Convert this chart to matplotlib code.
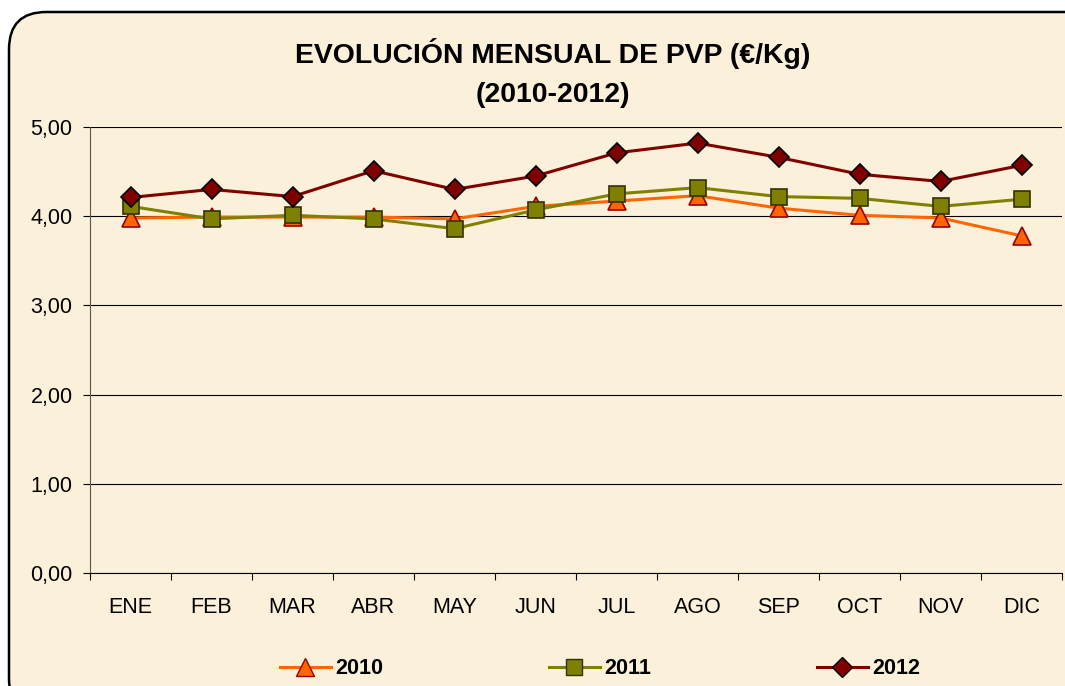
import matplotlib
matplotlib.use("Agg")
import matplotlib.pyplot as plt
from matplotlib.patches import FancyBboxPatch
from matplotlib.lines import Line2D
import numpy as np

months = ["ENE", "FEB", "MAR", "ABR", "MAY", "JUN", "JUL", "AGO", "SEP", "OCT", "NOV", "DIC"]
v2010 = [3.98, 3.99, 3.99, 3.99, 3.97, 4.11, 4.17, 4.23, 4.09, 4.01, 3.98, 3.78]
v2011 = [4.11, 3.97, 4.01, 3.97, 3.86, 4.07, 4.25, 4.32, 4.22, 4.20, 4.11, 4.19]
v2012 = [4.21, 4.30, 4.22, 4.51, 4.30, 4.45, 4.71, 4.82, 4.66, 4.47, 4.39, 4.57]
yticks = [0, 1, 2, 3, 4, 5]
ytick_labels = ["0,00", "1,00", "2,00", "3,00", "4,00", "5,00"]
title = "EVOLUCIÓN MENSUAL DE PVP (€/Kg)\n(2010-2012)"

plt.rcParams['font.family'] = ['Liberation Sans', 'DejaVu Sans']

W, H = 1065, 686
fig = plt.figure(figsize=(W / 100, H / 100), dpi=100)
bg = "#FBF0DA"
fig.patch.set_facecolor("white")

# rounded frame
frame = FancyBboxPatch((9 / W, -30 / H), (1120) / W, (H - 12 + 30) / H,
                       boxstyle="round,pad=0,rounding_size=0.035",
                       transform=fig.transFigure, facecolor=bg,
                       edgecolor="black", linewidth=1.8, zorder=-5,
                       mutation_aspect=W / H)
fig.patches.append(frame)

left, right, top, bottom = 90, 1062, 127, 573
ax = fig.add_axes([left / W, 1 - bottom / H, (right - left) / W, (bottom - top) / H])
ax.set_zorder(2)
ax.set_facecolor("none")

x = np.arange(len(months))
ax.plot(x, v2010, color="#FF6600", lw=2.2, marker="^", ms=13,
        mfc="#FF6600", mec="#990000", mew=1.2, zorder=3, label="2010")
ax.plot(x, v2011, color="#808000", lw=2.2, marker="s", ms=12,
        mfc="#808000", mec="#333300", mew=1.2, zorder=4, label="2011")
ax.plot(x, v2012, color="#800000", lw=2.2, marker="D", ms=10,
        mfc="#800000", mec="black", mew=1.2, zorder=5, label="2012")

ax.set_xlim(-0.5, len(months) - 0.5)
ax.set_ylim(0, 5)
ax.set_yticks(yticks)
ax.set_yticklabels(ytick_labels, fontsize=15.5)
ax.yaxis.grid(True, color="black", lw=0.8)
ax.set_axisbelow(True)

ax.set_xticks(x)
ax.set_xticklabels(months, fontsize=15.5)
ax.tick_params(axis="x", length=0, pad=17.5)
ax.set_xticks(np.arange(-0.5, len(months), 1), minor=True)
ax.tick_params(axis="x", which="minor", length=5, color="black", width=0.8, direction="out")
ax.tick_params(axis="y", length=5, width=0.8, direction="out", pad=7.5)

for s in ["top", "right"]:
    ax.spines[s].set_visible(False)
ax.spines["left"].set_color("#555555")
ax.spines["bottom"].set_color("black")

fig.text(553 / W, 1 - 73 / H, title, ha="center", va="center",
         fontsize=20.4, fontweight="bold", linespacing=1.62)

handles = [
    Line2D([0], [0], color="#FF6600", lw=2.2, marker="^", ms=13, mfc="#FF6600", mec="#990000"),
    Line2D([0], [0], color="#808000", lw=2.2, marker="s", ms=11, mfc="#808000", mec="#333300"),
    Line2D([0], [0], color="#800000", lw=2.2, marker="D", ms=10, mfc="#800000", mec="black"),
]
fig.legend(handles, ["2010", "2011", "2012"], loc="center", ncol=3,
           bbox_to_anchor=(600 / W, 1 - 669 / H), frameon=False,
           prop={"weight": "bold", "size": 15.5}, columnspacing=7.7,
           handlelength=2.37, handletextpad=0.2)

fig.savefig("out.png", dpi=100, facecolor="white")
